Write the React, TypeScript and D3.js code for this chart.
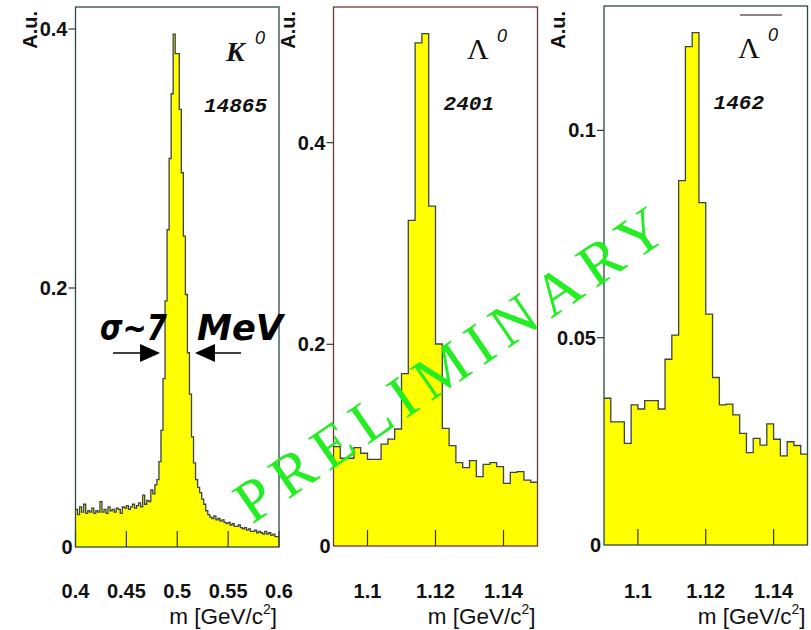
import React from "react";
import * as d3 from "d3";

// K0 invariant-mass spectrum, 0.4–0.6 GeV/c², 100 bins
const k0Range = [0.4, 0.6];
const k0Values = [
  0.029, 0.025, 0.031, 0.027, 0.033, 0.026, 0.028, 0.027, 0.030, 0.026,
  0.028, 0.027, 0.035, 0.027, 0.029, 0.026, 0.031, 0.028, 0.029, 0.027,
  0.030, 0.029, 0.026, 0.031, 0.030, 0.032, 0.029, 0.031, 0.033, 0.030,
  0.032, 0.034, 0.031, 0.040, 0.033, 0.036, 0.035, 0.044, 0.041, 0.048,
  0.052, 0.066, 0.090, 0.130, 0.190, 0.245, 0.300, 0.350, 0.396, 0.381,
  0.381, 0.338, 0.289, 0.240, 0.195, 0.150, 0.118, 0.085, 0.065, 0.052,
  0.046, 0.042, 0.037, 0.033, 0.028, 0.025, 0.023, 0.022, 0.024, 0.021,
  0.022, 0.020, 0.021, 0.019, 0.018, 0.019, 0.017, 0.018, 0.016, 0.016,
  0.017, 0.015, 0.014, 0.015, 0.013, 0.014, 0.012, 0.012, 0.013, 0.011,
  0.012, 0.011, 0.010, 0.012, 0.010, 0.011, 0.009, 0.010, 0.008, 0.008,
];
const k0XTicks = [0.4, 0.45, 0.5, 0.55, 0.6];
const k0YTicks = [0, 0.2, 0.4];

// Lambda spectrum, 1.09–1.15 GeV/c², 30 bins
const lambdaRange = [1.09, 1.15];
const lambdaValues = [
  0.0985, 0.087, 0.087, 0.0975, 0.092, 0.086, 0.086, 0.101, 0.106, 0.116,
  0.171, 0.323, 0.499, 0.508, 0.337, 0.2003, 0.1167, 0.0995, 0.0826, 0.0777,
  0.0846, 0.0687, 0.081, 0.0826, 0.0787, 0.0622, 0.073, 0.0737, 0.0654, 0.0632,
];
const lambdaXTicks = [1.1, 1.12, 1.14];
const lambdaYTicks = [0, 0.2, 0.4];

// anti-Lambda spectrum, 1.09–1.15 GeV/c², 30 bins
const antiLambdaValues = [
  0.0354, 0.0297, 0.0297, 0.0245, 0.0338, 0.0328, 0.0348, 0.0348, 0.0328, 0.0448,
  0.0506, 0.0879, 0.1202, 0.1236, 0.0826, 0.0557, 0.0404, 0.0338, 0.034, 0.0314,
  0.0269, 0.0223, 0.0257, 0.0241, 0.0292, 0.0255, 0.0215, 0.0249, 0.024, 0.0219,
];
const antiLambdaYTicks = [0, 0.05, 0.1];

const counts = ["14865", "2401", "1462"];

const FILL = "#ffff00";
const OUTLINE = "#3c4440";
const SANS = "'Liberation Sans', Arial, Helvetica, sans-serif";
const SERIF = "'Liberation Serif', 'Times New Roman', serif";
const MONO = "'Liberation Mono', 'Courier New', monospace";
const ROUND = "'DejaVu Sans', sans-serif";

type Panel = {
  values: number[];
  range: number[];
  xTicks: number[];
  yTicks: number[];
  yMax: number;
  left: number;
  right: number;
  top: number;
  bottom: number;
  frame: string;
  countX: number;
  countY: number;
};

const panels: Panel[] = [
  { values: k0Values, range: k0Range, xTicks: k0XTicks, yTicks: k0YTicks, yMax: 0.417,
    left: 75.5, right: 279, top: 7, bottom: 547, frame: "#2c4a42", countX: 267, countY: 112 },
  { values: lambdaValues, range: lambdaRange, xTicks: lambdaXTicks, yTicks: lambdaYTicks, yMax: 0.5345,
    left: 333.5, right: 537.5, top: 7, bottom: 546, frame: "#6a3a3a", countX: 494, countY: 110 },
  { values: antiLambdaValues, range: lambdaRange, xTicks: lambdaXTicks, yTicks: antiLambdaYTicks, yMax: 0.130,
    left: 604, right: 807.5, top: 6, bottom: 545, frame: "#2c4a42", countX: 764, countY: 109 },
];

const fmt = (v: number) => (v === 0 ? "0" : String(v));

function HistPanel({ p, idx }: { p: Panel; idx: number }) {
  const x = d3.scaleLinear().domain(p.range).range([p.left, p.right]);
  const y = d3.scaleLinear().domain([0, p.yMax]).range([p.bottom, p.top]);
  const w = (p.range[1] - p.range[0]) / p.values.length;
  const pts: [number, number][] = p.values.map((v, i) => [p.range[0] + i * w, v]);
  pts.push([p.range[1], p.values[p.values.length - 1]]);
  const area = d3.area<[number, number]>()
    .curve(d3.curveStepAfter)
    .x((d) => x(d[0]))
    .y0(y(0))
    .y1((d) => y(d[1]));
  const line = d3.line<[number, number]>()
    .curve(d3.curveStepAfter)
    .x((d) => x(d[0]))
    .y((d) => y(d[1]));

  return (
    <g>
      <path d={area(pts) ?? ""} fill={FILL} stroke="none" />
      <path d={line(pts) ?? ""} fill="none" stroke={OUTLINE} strokeWidth={1.3} />
      {/* x ticks inside the frame */}
      {p.xTicks.map((t) => (
        <line key={"xt" + t} x1={x(t)} x2={x(t)} y1={y(0)} y2={y(0) - 16} stroke="#333" strokeWidth={1.2} />
      ))}
      {/* frame */}
      <rect x={p.left} y={p.top} width={p.right - p.left} height={p.bottom - p.top}
        fill="none" stroke={p.frame} strokeWidth={1.3} />
      {/* y ticks outside */}
      {p.yTicks.filter((t) => t !== 0).map((t) => (
        <line key={"yt" + t} x1={p.left - 7} x2={p.left} y1={y(t)} y2={y(t)} stroke="#333" strokeWidth={1.2} />
      ))}
      {p.yTicks.map((t) => (
        <text key={"yl" + t} x={p.left - (t === 0 ? 3 : 8)} y={y(t) + 7} textAnchor="end"
          fontFamily={SANS} fontWeight="bold" fontSize={20} fill="#111">{fmt(t)}</text>
      ))}
      {p.xTicks.map((t) => (
        <text key={"xl" + t} x={x(t)} y={598} textAnchor="middle"
          fontFamily={SANS} fontWeight="bold" fontSize={20} fill="#111">{fmt(t)}</text>
      ))}
      <text x={p.right - 2} y={624} textAnchor="end" fontFamily={SANS} fontSize={22.5} fill="#111">
        m [GeV/c<tspan dy={-10} fontSize={14}>2</tspan><tspan dy={10}>]</tspan>
      </text>
      <text transform={`translate(${p.left - 39},11) rotate(-90)`} textAnchor="end"
        fontFamily={SANS} fontWeight="bold" fontSize={20} fill="#111">A.u.</text>
      <text x={p.countX} y={p.countY} textAnchor="end"
        fontFamily={MONO} fontStyle="italic" fontWeight="bold" fontSize={21} fill="#111">{counts[idx]}</text>
    </g>
  );
}

export default function App() {
  const k0 = panels[0];
  const xk = d3.scaleLinear().domain(k0.range).range([k0.left, k0.right]);
  const arrowY = 353;
  const lTip = xk(0.4831);
  const rTip = xk(0.5174);
  return (
    <svg width={811} height={630} viewBox="0 0 811 630"
      style={{ position: "absolute", left: 0, top: 0, background: "#fff" }}>
      <rect width={811} height={630} fill="#fff" />
      {panels.map((p, i) => <HistPanel key={i} p={p} idx={i} />)}

      {/* particle labels */}
      <text x={226} y={61} fontFamily={SERIF} fontStyle="italic" fontWeight="bold" fontSize={28} fill="#111">K</text>
      <text x={255} y={44} fontFamily={SANS} fontStyle="italic" fontSize={18} fill="#111">0</text>
      <text x={467} y={59} fontFamily={SERIF} fontSize={30} fill="#111">Λ</text>
      <text x={497} y={42} fontFamily={SANS} fontStyle="italic" fontSize={18} fill="#111">0</text>
      <line x1={740} x2={782} y1={15} y2={15} stroke="#111" strokeWidth={1.2} />
      <text x={738} y={58} fontFamily={SERIF} fontSize={30} fill="#111">Λ</text>
      <text x={768} y={41} fontFamily={SANS} fontStyle="italic" fontSize={18} fill="#111">0</text>

      {/* width annotation */}
      <text x={100} y={340} fontFamily={ROUND} fontStyle="italic" fontWeight="bold" fontSize={36}
        textLength={67} lengthAdjust="spacingAndGlyphs" fill="#000">σ~7</text>
      <text x={197} y={340} fontFamily={ROUND} fontStyle="italic" fontWeight="bold" fontSize={36}
        textLength={86} lengthAdjust="spacingAndGlyphs" fill="#000">MeV</text>
      <line x1={113} x2={lTip - 16} y1={arrowY} y2={arrowY} stroke="#000" strokeWidth={1.5} />
      <path d={`M${lTip},${arrowY} L${lTip - 20},${arrowY - 9} L${lTip - 20},${arrowY + 9} Z`} fill="#000" />
      <line x1={rTip + 16} x2={241} y1={arrowY} y2={arrowY} stroke="#000" strokeWidth={1.5} />
      <path d={`M${rTip},${arrowY} L${rTip + 20},${arrowY - 9} L${rTip + 20},${arrowY + 9} Z`} fill="#000" />

      {/* watermark */}
      <text transform="translate(457,367) rotate(-34.5)" textAnchor="middle" dominantBaseline="middle"
        fontFamily={SERIF} fontSize={60} letterSpacing={10} fill="#22ee22">PRELIMINARY</text>
    </svg>
  );
}
